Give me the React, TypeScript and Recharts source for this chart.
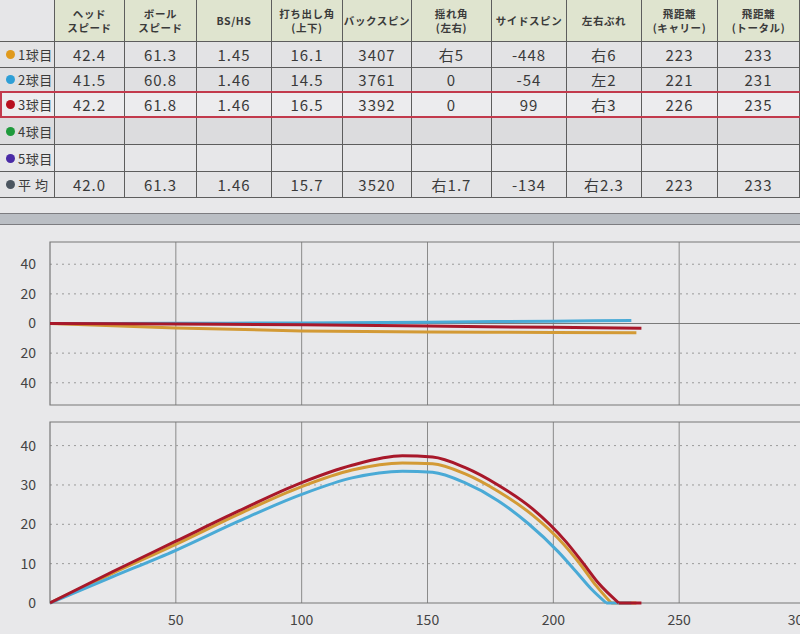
import React from "react";
import {
  LineChart,
  Line,
  XAxis,
  YAxis,
  CartesianGrid,
  ReferenceLine,
  ReferenceArea,
} from "recharts";

// ---- table data ----
const headers = [
  "",
  "ヘッド\nスピード",
  "ボール\nスピード",
  "BS/HS",
  "打ち出し角\n(上下)",
  "バックスピン",
  "揺れ角\n(左右)",
  "サイドスピン",
  "左右ぶれ",
  "飛距離\n(キャリー)",
  "飛距離\n(トータル)",
];
const rowLabels = ["1球目", "2球目", "3球目", "4球目", "5球目", "平 均"];
const rowDots = ["#e09a1c", "#2f9fd6", "#b8101e", "#1f9a3c", "#4a2ba6", "#4c5660"];
const shot1 = ["42.4", "61.3", "1.45", "16.1", "3407", "右5", "-448", "右6", "223", "233"];
const shot2 = ["41.5", "60.8", "1.46", "14.5", "3761", "0", "-54", "左2", "221", "231"];
const shot3 = ["42.2", "61.8", "1.46", "16.5", "3392", "0", "99", "右3", "226", "235"];
const shot4: string[] = [];
const shot5: string[] = [];
const average = ["42.0", "61.3", "1.46", "15.7", "3520", "右1.7", "-134", "右2.3", "223", "233"];
const tableRows = [shot1, shot2, shot3, shot4, shot5, average];

const colWidths = [55, 70, 72, 75, 71, 69, 80, 75, 75, 76, 82];
const rowHeights = [26, 25, 25, 27, 27, 26];

// ---- trajectory data (distance in yd) ----
// plan view: lateral offset, left = positive
const side1 = [
  { d: 0, v: 0 }, { d: 25, v: -1.5 }, { d: 50, v: -3 }, { d: 100, v: -5 },
  { d: 150, v: -5.8 }, { d: 200, v: -6 }, { d: 233, v: -6.2 },
];
const side2 = [
  { d: 0, v: 0 }, { d: 50, v: 0.1 }, { d: 100, v: 0.4 }, { d: 150, v: 0.9 },
  { d: 200, v: 1.6 }, { d: 231, v: 2 },
];
const side3 = [
  { d: 0, v: 0 }, { d: 50, v: -0.3 }, { d: 100, v: -0.8 }, { d: 150, v: -1.7 },
  { d: 200, v: -2.6 }, { d: 235, v: -3.2 },
];

// side view: height during flight, then roll on the ground
const flight1 = [
  { d: 0, v: 0 }, { d: 25, v: 7.6 }, { d: 50, v: 14.9 }, { d: 75, v: 22.6 },
  { d: 100, v: 29.6 }, { d: 120, v: 33.8 }, { d: 140, v: 35.6 }, { d: 152, v: 35.4 },
  { d: 165, v: 32.8 }, { d: 178, v: 28.4 }, { d: 192, v: 22.2 }, { d: 204, v: 15 },
  { d: 211, v: 9.6 }, { d: 217, v: 4.4 }, { d: 223, v: 0 },
];
const roll1 = [{ d: 223, v: 0 }, { d: 233, v: 0 }];
const flight2 = [
  { d: 0, v: 0 }, { d: 25, v: 6.7 }, { d: 50, v: 13.4 }, { d: 75, v: 20.8 },
  { d: 100, v: 27.6 }, { d: 120, v: 31.8 }, { d: 140, v: 33.5 }, { d: 152, v: 33.2 },
  { d: 165, v: 30.5 }, { d: 178, v: 26 }, { d: 190, v: 20.2 }, { d: 202, v: 13 },
  { d: 209, v: 8 }, { d: 215, v: 3.6 }, { d: 221, v: 0 },
];
const roll2 = [{ d: 221, v: 0 }, { d: 231, v: 0 }];
const flight3 = [
  { d: 0, v: 0 }, { d: 25, v: 8 }, { d: 50, v: 15.7 }, { d: 75, v: 23.4 },
  { d: 100, v: 30.6 }, { d: 120, v: 35 }, { d: 140, v: 37.4 }, { d: 152, v: 37.1 },
  { d: 165, v: 34.4 }, { d: 178, v: 30 }, { d: 192, v: 23.8 }, { d: 205, v: 15.6 },
  { d: 212, v: 10 }, { d: 218, v: 5 }, { d: 226, v: 0 },
];
const roll3 = [{ d: 226, v: 0 }, { d: 235, v: 0 }];

const distTicks = [50, 100, 150, 200, 250, 300];
const sideTicks = [-40, -20, 0, 20, 40];
const sideGrid = [-40, -20, 20, 40];
const heightTicks = [0, 10, 20, 30, 40];
const heightGrid = [10, 20, 30, 40];

const ORANGE = "#d39a35";
const BLUE = "#4aaad6";
const RED = "#a8182a";
const FONT = "'Noto Sans CJK JP', 'Noto Sans', sans-serif";
const tickStyle = { fill: "#444", fontSize: 14, fontFamily: FONT };

function Cell({ w, children, bg, bold }: { w: number; children?: React.ReactNode; bg: string; bold?: boolean }) {
  return (
    <div
      style={{
        width: w,
        flexShrink: 0,
        boxSizing: "border-box",
        borderRight: "1px solid #5d5d5d",
        background: bg,
        display: "flex",
        alignItems: "center",
        justifyContent: "center",
        textAlign: "center",
        whiteSpace: "pre",
        fontWeight: bold ? 700 : 400,
      }}
    >
      {children}
    </div>
  );
}

function Table() {
  const rowBgs = ["#e3e3e5", "#e0e0e2", "#ececee", "#dcdcde", "#e7e7e9", "#e4e4e6"];
  return (
    <div style={{ position: "absolute", left: 0, top: 0, width: 800, fontFamily: FONT, color: "#3a3a3a" }}>
      <div style={{ display: "flex", height: 42, borderBottom: "1px solid #5d5d5d", boxSizing: "border-box", fontSize: 10.5, lineHeight: "14px", letterSpacing: 0.6 }}>
        {headers.map((h, i) => (
          <Cell key={i} w={colWidths[i]} bg={i === 0 ? "#e6e6e8" : "#dfe4cf"} bold>
            {h}
          </Cell>
        ))}
      </div>
      {tableRows.map((row, r) => (
        <div
          key={r}
          style={{
            display: "flex",
            height: rowHeights[r],
            boxSizing: "border-box",
            borderBottom: r === 1 || r === 2 ? "2px solid #c23a4c" : "1px solid #5d5d5d",
            borderLeft: r === 2 ? "2px solid #c23a4c" : "none",
            fontSize: 15,
            letterSpacing: 1,
          }}
        >
          <Cell w={colWidths[0] - (r === 2 ? 2 : 0)} bg={rowBgs[r]}>
            <span style={{ display: "flex", alignItems: "center", width: "100%", paddingLeft: r === 2 ? 4 : 6, fontSize: 13, letterSpacing: 0.5, whiteSpace: "nowrap" }}>
              <span style={{ width: 9, height: 9, flexShrink: 0, borderRadius: 5, background: rowDots[r], marginRight: 3 }} />
              {rowLabels[r]}
            </span>
          </Cell>
          {colWidths.slice(1).map((w, c) => (
            <Cell key={c} w={w} bg={rowBgs[r]}>
              {row[c] ?? ""}
            </Cell>
          ))}
        </div>
      ))}
    </div>
  );
}

export default function App() {
  return (
    <div style={{ position: "fixed", left: 0, top: 0, width: 800, height: 634, overflow: "hidden", background: "#e8e8ea" }}>
      <Table />
      <div
        style={{
          position: "absolute",
          left: 0,
          top: 213,
          width: 800,
          height: 12,
          background: "#babec4",
          borderTop: "1px solid #7c7c80",
          borderBottom: "1px solid #7c7c80",
          boxSizing: "border-box",
        }}
      />

      {/* plan view */}
      <div style={{ position: "absolute", left: 0, top: 232 }}>
        <LineChart width={810} height={183} margin={{ top: 10, right: 5, bottom: 10, left: 0 }}>
          <CartesianGrid horizontal={false} verticalValues={[50, 100, 150, 200, 250]} stroke="#8a8a8a" />
          <CartesianGrid vertical={false} horizontalValues={sideGrid} stroke="#9a9a9a" strokeDasharray="2 4" />
          <XAxis dataKey="d" type="number" domain={[0, 300]} hide allowDataOverflow />
          <YAxis
            type="number"
            domain={[-55, 55]}
            ticks={sideTicks}
            width={50}
            tick={tickStyle}
            tickFormatter={(v: number) => String(Math.abs(v))}
            axisLine={false}
            tickLine={false}
            tickMargin={8}
          />
          <ReferenceArea x1={0} x2={300} y1={-55} y2={55} fill="none" stroke="#777" strokeWidth={1.2} />
          <ReferenceLine y={0} stroke="#7a7a7a" />
          <Line data={side1} dataKey="v" type="monotone" stroke={ORANGE} strokeWidth={3} dot={false} isAnimationActive={false} />
          <Line data={side2} dataKey="v" type="monotone" stroke={BLUE} strokeWidth={3} dot={false} isAnimationActive={false} />
          <Line data={side3} dataKey="v" type="monotone" stroke={RED} strokeWidth={3} dot={false} isAnimationActive={false} />
        </LineChart>
      </div>

      {/* side view */}
      <div style={{ position: "absolute", left: 0, top: 412 }}>
        <LineChart width={810} height={222} margin={{ top: 10, right: 5, bottom: 0, left: 0 }}>
          <CartesianGrid horizontal={false} verticalValues={[50, 100, 150, 200, 250]} stroke="#8a8a8a" />
          <CartesianGrid vertical={false} horizontalValues={heightGrid} stroke="#9a9a9a" strokeDasharray="2 4" />
          <XAxis
            dataKey="d"
            type="number"
            domain={[0, 300]}
            ticks={distTicks}
            height={31}
            tick={tickStyle}
            axisLine={false}
            tickLine={false}
            tickMargin={6}
            allowDataOverflow
          />
          <YAxis
            type="number"
            domain={[0, 46]}
            ticks={heightTicks}
            width={50}
            tick={tickStyle}
            axisLine={false}
            tickLine={false}
            tickMargin={8}
          />
          <ReferenceArea x1={0} x2={300} y1={0} y2={46} fill="none" stroke="#777" strokeWidth={1.2} />
          <Line data={flight1} dataKey="v" type="monotone" stroke={ORANGE} strokeWidth={3} dot={false} isAnimationActive={false} />
          <Line data={roll1} dataKey="v" type="linear" stroke={ORANGE} strokeWidth={3} dot={false} isAnimationActive={false} />
          <Line data={flight2} dataKey="v" type="monotone" stroke={BLUE} strokeWidth={3} dot={false} isAnimationActive={false} />
          <Line data={roll2} dataKey="v" type="linear" stroke={BLUE} strokeWidth={3} dot={false} isAnimationActive={false} />
          <Line data={flight3} dataKey="v" type="monotone" stroke={RED} strokeWidth={3} dot={false} isAnimationActive={false} />
          <Line data={roll3} dataKey="v" type="linear" stroke={RED} strokeWidth={3} dot={false} isAnimationActive={false} />
        </LineChart>
      </div>
    </div>
  );
}
